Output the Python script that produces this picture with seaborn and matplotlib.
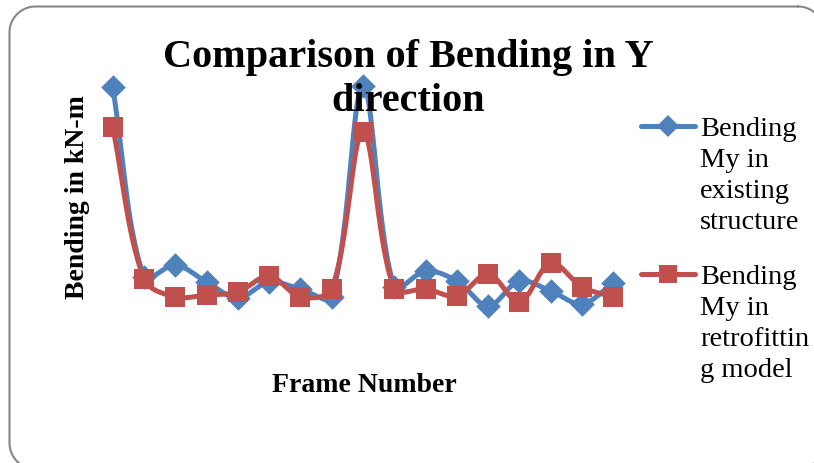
import numpy as np
import pandas as pd
import seaborn as sns
import matplotlib
matplotlib.use("Agg")
import matplotlib.pyplot as plt
from matplotlib.lines import Line2D

sns.set_theme(style="white")
plt.rcParams["font.family"] = ["Liberation Serif", "DejaVu Serif"]
plt.rcParams["text.color"] = "black"

# Bending moments My per frame (kN-m)
frames = list(range(1, 18))
existing = [242, 52, 64, 47, 31, 47, 40, 32, 243, 42, 58, 48, 23, 48, 38, 25, 46]
retrofit = [202, 50, 32, 34, 37, 53, 32, 40, 197, 40, 40, 33, 55, 27, 66, 42, 32]
series_names = ["Bending\nMy in\nexisting\nstructure", "Bending\nMy in\nretrofittin\ng model"]
colors = ["#4F81BD", "#C0504D"]
markers = ["D", "s"]


def smooth_curve(x, y, sx, sy, steps=30):
    """Bezier smoothing through every point; tangents scaled by chord lengths in screen space."""
    P = np.column_stack([np.asarray(x, float) * sx, np.asarray(y, float) * sy])
    P = np.vstack([P[0], P, P[-1]])
    t = np.linspace(0, 1, steps, endpoint=False)[:, None]
    out = []
    for i in range(1, len(P) - 2):
        p0, p1, p2, p3 = P[i - 1], P[i], P[i + 1], P[i + 2]
        d01 = np.linalg.norm(p1 - p0)
        d12 = np.linalg.norm(p2 - p1)
        d23 = np.linalg.norm(p3 - p2)
        c1 = p1 + (p2 - p0) * (d12 / (d01 + d12)) / 3
        c2 = p2 - (p3 - p1) * (d12 / (d12 + d23)) / 3
        b = (1 - t) ** 3 * p1 + 3 * (1 - t) ** 2 * t * c1 + 3 * (1 - t) * t ** 2 * c2 + t ** 3 * p2
        out.append(b)
    out.append(P[-2][None, :])
    out = np.vstack(out)
    return out[:, 0] / sx, out[:, 1] / sy


def rounded_rect(x0, y0, x1, y1, r, n=20):
    """Outline of a rounded rectangle (y grows downward)."""
    pts = []
    for cx, cy, a0 in [(x1 - r, y0 + r, -90), (x1 - r, y1 - r, 0),
                       (x0 + r, y1 - r, 90), (x0 + r, y0 + r, 180)]:
        a = np.radians(np.linspace(a0, a0 + 90, n))
        pts.append(np.column_stack([cx + r * np.cos(a), cy + r * np.sin(a)]))
    pts = np.vstack(pts)
    pts = np.vstack([pts, pts[:1]])
    return pts[:, 0], pts[:, 1]


W, H = 814, 464
fig = plt.figure(figsize=(W / 100, H / 100), dpi=100)
fig.patch.set_facecolor("white")

# pixel-space overlay for the rounded chart border (runs past the right and bottom edges)
frame_ax = fig.add_axes([0, 0, 1, 1], zorder=0)
frame_ax.set_xlim(0, W)
frame_ax.set_ylim(H, 0)
frame_ax.axis("off")
rx, ry = rounded_rect(9.5, 7.5, 824, 470, 26)
frame_ax.plot(rx, ry, color="#878787", linewidth=1.5, solid_joinstyle="round")

left, right, top, bottom = 97, 629, 60, 360
ax = fig.add_axes([left / W, 1 - bottom / H, (right - left) / W, (bottom - top) / H], zorder=1)
ax.set_facecolor("none")
xlim, ylim = (0.5, 17.5), (-30, 270)
px_x = (right - left) / (xlim[1] - xlim[0])
px_y = (bottom - top) / (ylim[1] - ylim[0])

for vals, c, m, ms in zip([existing, retrofit], colors, markers, [12.5, 14]):
    cx, cy = smooth_curve(frames, vals, px_x, px_y)
    curve = pd.DataFrame({"frame": cx, "value": cy})
    sns.lineplot(data=curve, x="frame", y="value", sort=False, color=c,
                 linewidth=3.6, ax=ax, solid_capstyle="round")
    pts = pd.DataFrame({"frame": frames, "value": vals})
    sns.scatterplot(data=pts, x="frame", y="value", marker=m, color=c, s=ms ** 2,
                    edgecolor=c, linewidth=0, ax=ax, zorder=3)

ax.set_xlim(*xlim)
ax.set_ylim(*ylim)
ax.set_xticks([])
ax.set_yticks([])
for sp in ax.spines.values():
    sp.set_visible(False)
ax.set_xlabel("")
ax.set_ylabel("")

# title and axis labels
fig.text(408 / W, 1 - 67 / H, "Comparison of Bending in Y", ha="center", va="baseline",
         fontsize=29, fontweight="bold")
fig.text(408 / W, 1 - 111 / H, "direction", ha="center", va="baseline",
         fontsize=29, fontweight="bold")
fig.text(77 / W, 1 - 197 / H, "Bending in kN-m", rotation=90, ha="center", va="center",
         fontsize=20, fontweight="bold")
fig.text(364 / W, 1 - 392 / H, "Frame Number", ha="center", va="baseline",
         fontsize=20, fontweight="bold")

# legend
for i, (name, c, m, ms) in enumerate(zip(series_names, colors, markers, [11, 13])):
    base = 136 + i * 148
    yc = 1 - (base - 9) / H
    fig.add_artist(Line2D([641 / W, 695 / W], [yc, yc], transform=fig.transFigure,
                          color=c, linewidth=3.6, solid_capstyle="round"))
    fig.add_artist(Line2D([668 / W], [yc], transform=fig.transFigure, marker=m,
                          markersize=ms, color=c, markeredgewidth=0))
    for k, line in enumerate(name.split("\n")):
        fig.text(700 / W, 1 - (base + 31 * k) / H, line, ha="left", va="baseline",
                 fontsize=20.5)

fig.savefig("out.png", dpi=100)
